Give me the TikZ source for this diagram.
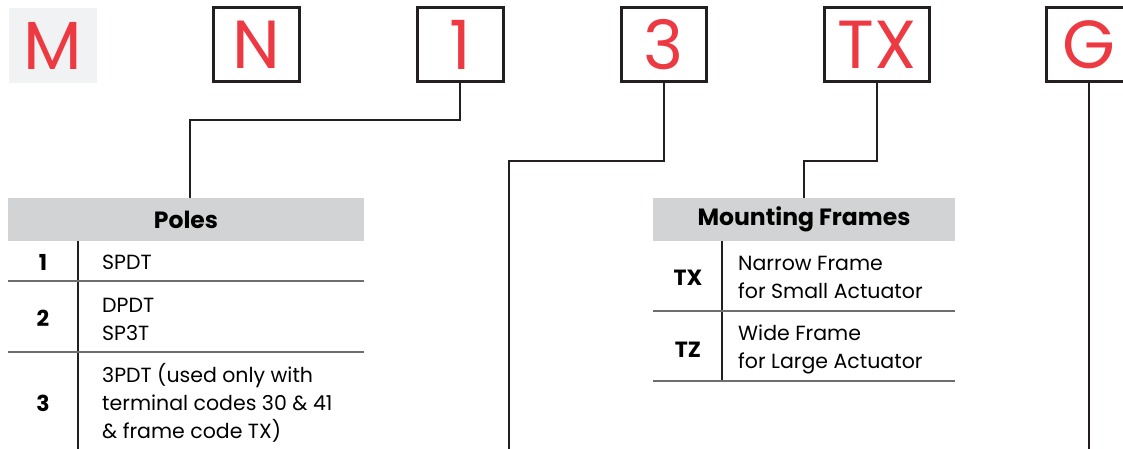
\documentclass[tikz,border=0pt]{standalone}
\usepackage{fontspec}
\setmainfont{Poppins}
\usepackage{xcolor}
\usepackage{tikz}
\definecolor{codered}{RGB}{237,58,66}
\definecolor{headgray}{RGB}{209,211,212}
\definecolor{lightgray}{RGB}{241,242,243}
\definecolor{inkdark}{RGB}{35,31,32}
\definecolor{rulegray}{RGB}{110,110,112}
\newcommand{\cellfont}{\fontsize{20.5}{28}\selectfont}

\begin{document}
\begin{tikzpicture}[x=1pt,y=-1pt,
    codebox/.style={draw=inkdark,line width=3pt,minimum width=86pt,minimum height=74pt,
      inner sep=0pt,text=codered,font=\fontsize{68}{68}\selectfont},
    link/.style={draw=inkdark,line width=1.4pt},
    rowrule/.style={draw=rulegray,line width=1.4pt},
    headcell/.style={fill=headgray,inner sep=0pt,minimum height=43pt,
      font=\bfseries\fontsize{23.5}{26}\selectfont},
    keycell/.style={inner sep=0pt,font=\bfseries\fontsize{22}{28}\selectfont},
    textcell/.style={anchor=west,align=left,inner sep=0pt,font=\cellfont}]
  \useasboundingbox (0,0) rectangle (1123,449);
  % part number boxes
  \node[codebox,draw=none,fill=lightgray,minimum width=88pt,minimum height=75pt] (cM) at (53,45.5) {M};
  \node[codebox] (cN) at (256,45) {N};
  \node[codebox] (c1) at (460,45) {1};
  \node[codebox,minimum width=85pt] (c3) at (664,45) {3};
  \node[codebox,minimum width=105pt] (cTX) at (877,45) {TX};
  \node[codebox] (cG) at (1089,45) {G};
  % table headers
  \node[headcell,minimum width=356pt] (poles) at (186,219.5) {Poles};
  \node[headcell,minimum width=302pt] (frames) at (804,219.5) {Mounting Frames};
  % connectors
  \coordinate (k1) at (190,120);
  \coordinate (k3) at (509,161);
  \coordinate (kTX) at (804,161);
  \coordinate (e3) at (509,449);
  \coordinate (eG) at (1089,449);
  \draw[link] (c1.south) |- (k1) -- (k1 |- poles.north);
  \draw[link] (c3.south) |- (k3) -- (e3);
  \draw[link] (cTX.south) |- (kTX) -- (kTX |- frames.north);
  \draw[link] (cG.south) -- (eG);
  % poles table
  \draw[link] (78,241) -- (78,449);
  \draw[rowrule] (8,281) -- (364,281);
  \draw[rowrule] (8,352) -- (364,352);
  \node[keycell] (p1) at (43,262) {1};
  \node[textcell] (t1) at (102,262) {SPDT};
  \node[keycell] (p2) at (43,318) {2};
  \node[textcell] (t2) at (102,319) {DPDT\\SP3T};
  \node[keycell] (p3) at (43,403) {3};
  \node[textcell] (t3) at (102,403) {3PDT (used only with\\terminal codes 30 \& 41\\\& frame code TX)};
  % frames table
  \draw[link] (722,241) -- (722,381);
  \draw[rowrule] (653,311) -- (955,311);
  \draw[rowrule] (653,381) -- (955,381);
  \node[keycell] (fTX) at (688,278) {TX};
  \node[textcell] (tTX) at (738,277) {Narrow Frame\\for Small Actuator};
  \node[keycell] (fTZ) at (688,350) {TZ};
  \node[textcell] (tTZ) at (738,349) {Wide Frame\\for Large Actuator};
\end{tikzpicture}
\end{document}
